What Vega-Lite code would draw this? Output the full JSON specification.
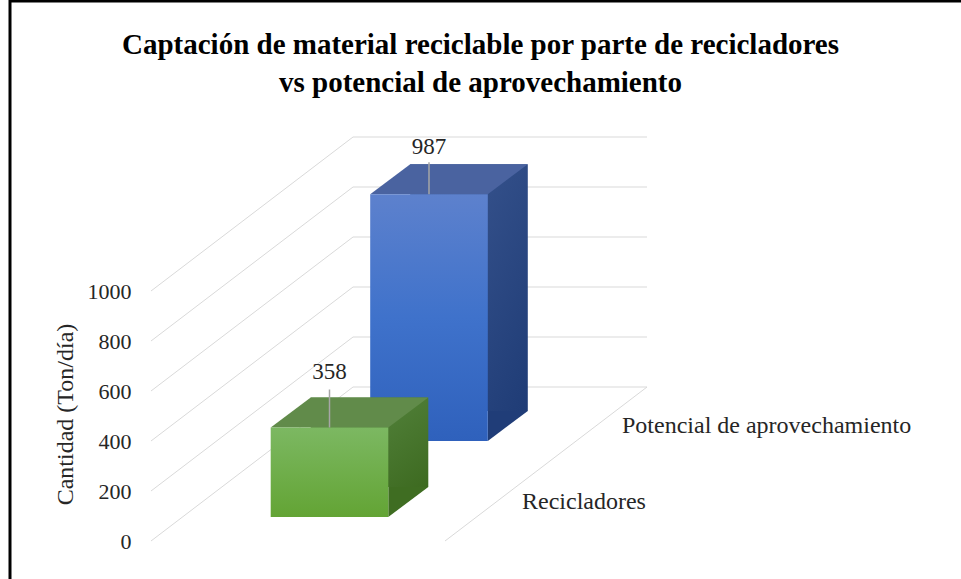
{
  "$schema": "https://vega.github.io/schema/vega-lite/v6.json",
  "autosize": {"type": "none"},
  "width": 961,
  "height": 588,
  "padding": {"left": 10, "top": 1, "right": -10, "bottom": -10},
  "background": "white",
  "config": {"view": {"stroke": "#000000", "strokeWidth": 3}, "font": "Liberation Serif"},
  "title": {
    "text": ["Captación de material reciclable por parte de recicladores", "vs potencial de aprovechamiento"],
    "font": "Liberation Serif", "fontSize": 29, "fontWeight": "bold", "color": "#000000",
    "lineHeight": 38, "anchor": "middle", "frame": "group", "offset": -97, "dx": -10
  },
  "datasets": {
    "cantidades": [
      {"serie": "Recicladores", "valor": 358},
      {"serie": "Potencial de aprovechamiento", "valor": 987}
    ],
    "niveles": [{"nivel": 0}, {"nivel": 200}, {"nivel": 400}, {"nivel": 600}, {"nivel": 800}, {"nivel": 1000}]
  },
  "data": {"name": "cantidades"},
  "layer": [
    {
      "data": {"name": "niveles"},
      "mark": {"type": "rule", "color": "#d9d9d9", "strokeWidth": 1, "xOffset": 202, "x2Offset": 202, "yOffset": -154},
      "encoding": {
        "x": {"datum": 0, "type": "quantitative", "scale": {"domain": [0, 1], "range": [141, 435], "nice": false, "zero": false}, "axis": null},
        "x2": {"datum": 1},
        "y": {
          "field": "nivel", "type": "quantitative",
          "scale": {"domain": [-192, 2160], "nice": false, "zero": false},
          "axis": {
            "title": "Cantidad (Ton/día)", "values": [0, 200, 400, 600, 800, 1000], "format": "d",
            "offset": -141, "domain": false, "ticks": false, "tickSize": 0, "grid": false,
            "labelPadding": 20, "labelFont": "Liberation Serif", "labelFontSize": 22, "labelColor": "#262626",
            "titleFont": "Liberation Serif", "titleFontSize": 24, "titleFontWeight": "normal", "titleColor": "#262626",
            "titlePadding": 10, "titleY": 413
          }
        }
      }
    },
    {
      "data": {"name": "niveles"},
      "mark": {"type": "rule", "color": "#d9d9d9", "strokeWidth": 1, "x2Offset": 202, "y2Offset": -154},
      "encoding": {
        "x": {"datum": 0, "type": "quantitative", "axis": null},
        "x2": {"datum": 0},
        "y": {"field": "nivel", "type": "quantitative"},
        "y2": {"field": "nivel"}
      }
    },
    {
      "data": {"name": "niveles"},
      "transform": [{"filter": "datum.nivel == 0"}],
      "mark": {"type": "rule", "color": "#d9d9d9", "strokeWidth": 1, "x2Offset": 202, "y2Offset": -154},
      "encoding": {
        "x": {"datum": 1, "type": "quantitative", "axis": null},
        "x2": {"datum": 1},
        "y": {"field": "nivel", "type": "quantitative"},
        "y2": {"field": "nivel"}
      }
    },
    {
      "transform": [{"filter": "datum.serie == 'Potencial de aprovechamiento'"}],
      "mark": {"type": "bar", "xOffset": 171, "x2Offset": 171, "yOffset": -130, "y2Offset": -130,
        "color": {"gradient": "linear", "x1": 0, "y1": 0, "x2": 1, "y2": 1, "stops": [{"offset": 0, "color": "#3e5a94"}, {"offset": 1, "color": "#1f3c76"}]}},
      "encoding": {
        "x": {"datum": 0.3, "type": "quantitative", "axis": null},
        "x2": {"datum": 0.7},
        "y": {"field": "valor", "type": "quantitative"},
        "y2": {"datum": 0}
      }
    },
    {
      "transform": [{"filter": "datum.serie == 'Potencial de aprovechamiento'"}],
      "mark": {"type": "point", "shape": "M58.8,0L98.8,-30L58.8,-30Z", "size": 4, "filled": true, "fill": "#203d78", "opacity": 1, "strokeWidth": 0, "xOffset": 131, "yOffset": -100},
      "encoding": {
        "x": {"datum": 0.5, "type": "quantitative", "axis": null},
        "y": {"datum": 0, "type": "quantitative"}
      }
    },
    {
      "transform": [{"filter": "datum.serie == 'Potencial de aprovechamiento'"}],
      "mark": {"type": "point", "shape": "M-58.8,0L58.8,0L98.8,-30L-18.8,-30Z", "size": 4, "filled": true, "fill": "#4a63a0", "opacity": 1, "strokeWidth": 0, "xOffset": 131, "yOffset": -100},
      "encoding": {
        "x": {"datum": 0.5, "type": "quantitative", "axis": null},
        "y": {"field": "valor", "type": "quantitative"}
      }
    },
    {
      "transform": [{"filter": "datum.serie == 'Potencial de aprovechamiento'"}],
      "mark": {"type": "bar", "xOffset": 131, "x2Offset": 131, "yOffset": -100, "y2Offset": -100,
        "color": {"gradient": "linear", "x1": 0, "y1": 0, "x2": 0, "y2": 1, "stops": [{"offset": 0, "color": "#5d81cd"}, {"offset": 0.5, "color": "#3f72cb"}, {"offset": 1, "color": "#2f61bc"}]}},
      "encoding": {
        "x": {"datum": 0.3, "type": "quantitative", "axis": null},
        "x2": {"datum": 0.7},
        "y": {"field": "valor", "type": "quantitative"},
        "y2": {"datum": 0}
      }
    },
    {
      "transform": [{"filter": "datum.serie == 'Potencial de aprovechamiento'"}],
      "mark": {"type": "rule", "color": "#a6a6a6", "strokeWidth": 1.5, "xOffset": 131, "yOffset": -100, "y2Offset": -132},
      "encoding": {
        "x": {"datum": 0.5, "type": "quantitative", "axis": null},
        "y": {"field": "valor", "type": "quantitative"},
        "y2": {"field": "valor"}
      }
    },
    {
      "transform": [{"filter": "datum.serie == 'Potencial de aprovechamiento'"}],
      "mark": {"type": "text", "font": "Liberation Serif", "fontSize": 23, "color": "#262626", "baseline": "middle", "align": "center", "xOffset": 131, "yOffset": -147},
      "encoding": {
        "x": {"datum": 0.5, "type": "quantitative", "axis": null},
        "y": {"field": "valor", "type": "quantitative"},
        "text": {"field": "valor", "type": "quantitative", "format": "d"}
      }
    },
    {
      "transform": [{"filter": "datum.serie == 'Recicladores'"}],
      "mark": {"type": "bar", "xOffset": 71.5, "x2Offset": 71.5, "yOffset": -54, "y2Offset": -54,
        "color": {"gradient": "linear", "x1": 0, "y1": 0, "x2": 1, "y2": 1, "stops": [{"offset": 0, "color": "#5b8b46"}, {"offset": 1, "color": "#3d6a20"}]}},
      "encoding": {
        "x": {"datum": 0.3, "type": "quantitative", "axis": null},
        "x2": {"datum": 0.7},
        "y": {"field": "valor", "type": "quantitative"},
        "y2": {"datum": 0}
      }
    },
    {
      "transform": [{"filter": "datum.serie == 'Recicladores'"}],
      "mark": {"type": "point", "shape": "M58.8,0L98.8,-30L58.8,-30Z", "size": 4, "filled": true, "fill": "#3f6d22", "opacity": 1, "strokeWidth": 0, "xOffset": 31.5, "yOffset": -24},
      "encoding": {
        "x": {"datum": 0.5, "type": "quantitative", "axis": null},
        "y": {"datum": 0, "type": "quantitative"}
      }
    },
    {
      "transform": [{"filter": "datum.serie == 'Recicladores'"}],
      "mark": {"type": "point", "shape": "M-58.8,0L58.8,0L98.8,-30L-18.8,-30Z", "size": 4, "filled": true, "fill": "#618b4a", "opacity": 1, "strokeWidth": 0, "xOffset": 31.5, "yOffset": -24},
      "encoding": {
        "x": {"datum": 0.5, "type": "quantitative", "axis": null},
        "y": {"field": "valor", "type": "quantitative"}
      }
    },
    {
      "transform": [{"filter": "datum.serie == 'Recicladores'"}],
      "mark": {"type": "bar", "xOffset": 31.5, "x2Offset": 31.5, "yOffset": -24, "y2Offset": -24,
        "color": {"gradient": "linear", "x1": 0, "y1": 0, "x2": 0, "y2": 1, "stops": [{"offset": 0, "color": "#7cb862"}, {"offset": 1, "color": "#63a434"}]}},
      "encoding": {
        "x": {"datum": 0.3, "type": "quantitative", "axis": null},
        "x2": {"datum": 0.7},
        "y": {"field": "valor", "type": "quantitative"},
        "y2": {"datum": 0}
      }
    },
    {
      "transform": [{"filter": "datum.serie == 'Recicladores'"}],
      "mark": {"type": "rule", "color": "#a6a6a6", "strokeWidth": 1.5, "xOffset": 31.5, "yOffset": -24, "y2Offset": -62},
      "encoding": {
        "x": {"datum": 0.5, "type": "quantitative", "axis": null},
        "y": {"field": "valor", "type": "quantitative"},
        "y2": {"field": "valor"}
      }
    },
    {
      "transform": [{"filter": "datum.serie == 'Recicladores'"}],
      "mark": {"type": "text", "font": "Liberation Serif", "fontSize": 23, "color": "#262626", "baseline": "middle", "align": "center", "xOffset": 31.5, "yOffset": -80},
      "encoding": {
        "x": {"datum": 0.5, "type": "quantitative", "axis": null},
        "y": {"field": "valor", "type": "quantitative"},
        "text": {"field": "valor", "type": "quantitative", "format": "d"}
      }
    },
    {
      "transform": [{"filter": "datum.serie == 'Recicladores'"}],
      "mark": {"type": "text", "font": "Liberation Serif", "fontSize": 24, "color": "#262626", "baseline": "middle", "align": "left", "xOffset": 77, "yOffset": -39},
      "encoding": {
        "x": {"datum": 1, "type": "quantitative", "axis": null},
        "y": {"datum": 0, "type": "quantitative"},
        "text": {"field": "serie", "type": "nominal"}
      }
    },
    {
      "transform": [{"filter": "datum.serie == 'Potencial de aprovechamiento'"}],
      "mark": {"type": "text", "font": "Liberation Serif", "fontSize": 24, "color": "#262626", "baseline": "middle", "align": "left", "xOffset": 177, "yOffset": -115},
      "encoding": {
        "x": {"datum": 1, "type": "quantitative", "axis": null},
        "y": {"datum": 0, "type": "quantitative"},
        "text": {"field": "serie", "type": "nominal"}
      }
    }
  ]
}
